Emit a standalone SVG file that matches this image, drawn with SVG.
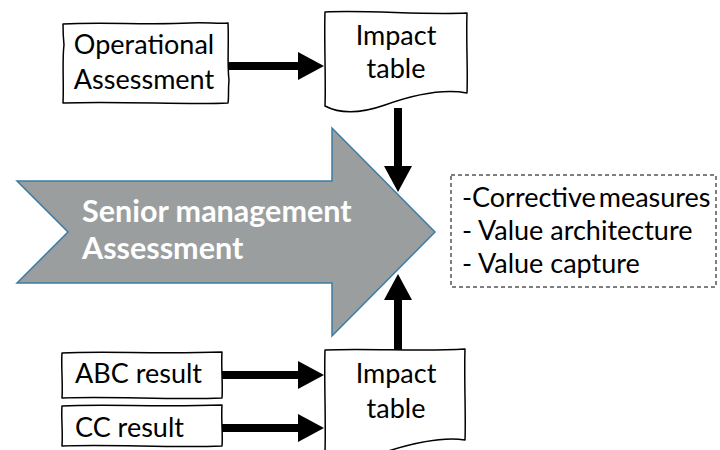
<svg xmlns="http://www.w3.org/2000/svg" width="720" height="450" viewBox="0 0 720 450">
<defs>
<style>
.box{fill:#fff;stroke:#000;stroke-width:1.5;stroke-linejoin:round}
.t{font-family:Lato,"Open Sans","Liberation Sans",sans-serif;font-size:27px;fill:#000}
.tm{text-anchor:middle}
.big{font-family:Lato,"Open Sans","Liberation Sans",sans-serif;font-size:30.5px;font-weight:bold;fill:#fff}
.con{stroke:#000;stroke-width:8;fill:none}
</style>
<marker id="ah" markerUnits="userSpaceOnUse" markerWidth="27" markerHeight="30" refX="1" refY="14" orient="auto" viewBox="0 0 27 28">
<path d="M0,0 L26,14 L0,28 Z" fill="#000"/>
</marker>
</defs>
<rect width="720" height="450" fill="#fff"/>
<g id="senior">
<polygon points="17,181 332,181 332,128 435,232 332,336 332,283 17,283 68,232" fill="#9b9e9f" stroke="#3c7ca3" stroke-width="1.5"/>
<text class="big" x="82" y="222">Senior management</text>
<text class="big" x="82" y="259">Assessment</text>
</g>
<g id="operational">
<path class="box" d="M63,24 C100,22 150,25 190,23 C205,22 218,24 228,23 C229,45 227,65 229,80 C228,90 229,97 228,103 C190,105 120,101 63,103 C64,85 62,60 64,45 C63,35 63,30 63,24 Z"/>
<text class="t tm" x="144" y="54">Operational</text>
<text class="t tm" x="144" y="89">Assessment</text>
</g>
<g id="impact-top">
<path class="box" d="M325,12 C370,10 420,15 467,13 C466,40 468,70 467,93 C440,88 410,96 385,105 C365,112 342,115 325,106 C326,80 324,40 325,12 Z"/>
<text class="t tm" x="396" y="45">Impact</text>
<text class="t tm" x="396" y="78">table</text>
</g>
<g id="abc">
<path class="box" d="M62,353 C100,351 160,354 222,352 C221,365 223,385 222,398 C170,400 110,396 62,398 C63,385 61,365 62,353 Z"/>
<text class="t" x="75" y="383">ABC result</text>
</g>
<g id="cc">
<path class="box" d="M62,406 C100,404 160,407 222,405 C221,420 223,435 222,446 C170,448 110,444 62,446 C63,430 61,418 62,406 Z"/>
<text class="t" x="75" y="437">CC result</text>
</g>
<g id="impact-bottom">
<path class="box" d="M325,350 C370,348 420,352 465,349 C464,380 466,415 465,440 C440,436 410,444 385,452 C365,458 342,460 325,452 C326,420 324,380 325,350 Z"/>
<text class="t tm" x="396" y="383">Impact</text>
<text class="t tm" x="396" y="418">table</text>
</g>
<g id="outcomes">
<rect x="451" y="175" width="265" height="112" fill="#fff" stroke="#000" stroke-width="1" stroke-dasharray="4,3"/>
<text class="t" x="462" y="207" word-spacing="-4">-Corrective measures</text>
<text class="t" x="462" y="240">- Value architecture</text>
<text class="t" x="462" y="273">- Value capture</text>
</g>
<g id="connectors">
<line class="con" x1="228" y1="66" x2="299" y2="66" marker-end="url(#ah)"/>
<line class="con" x1="222" y1="375" x2="299" y2="375" marker-end="url(#ah)"/>
<line class="con" x1="222" y1="428" x2="299" y2="428" marker-end="url(#ah)"/>
<line class="con" x1="398" y1="108" x2="398" y2="167" marker-end="url(#ah)"/>
<line class="con" x1="398" y1="350" x2="398" y2="299" marker-end="url(#ah)"/>
</g>
</svg>
